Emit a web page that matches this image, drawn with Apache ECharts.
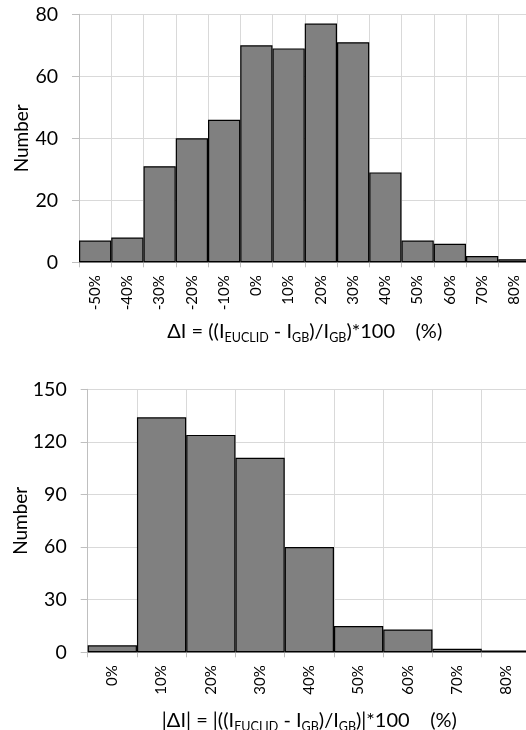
<!DOCTYPE html>
<html>
<head>
<meta charset="utf-8">
<script src="https://cdn.jsdelivr.net/npm/echarts@6/dist/echarts.min.js"></script>
<style>
html,body{margin:0;padding:0;background:#fff;}
#chart{width:526px;height:730px;}
</style>
</head>
<body>
<div id="chart"></div>
<script>
// Top histogram: signed difference
const topCategories = ['-50%','-40%','-30%','-20%','-10%','0%','10%','20%','30%','40%','50%','60%','70%','80%'];
const topValues = [7, 8, 31, 40, 46, 70, 69, 77, 71, 29, 7, 6, 2, 1];
const topYTicks = {min: 0, max: 80, interval: 20};

// Bottom histogram: absolute difference
const bottomCategories = ['0%','10%','20%','30%','40%','50%','60%','70%','80%'];
const bottomValues = [4, 134, 124, 111, 60, 15, 13, 2, 1];
const bottomYTicks = {min: 0, max: 150, interval: 30};

const FONT = 'Lato';
const gridColor = '#d9d9d9';
const axisColor = '#bfbfbf';

const rich = {
  m: {fontFamily: FONT, fontSize: 20, color: '#000', lineHeight: 24},
  s: {fontFamily: FONT, fontSize: 12.5, color: '#000', padding: [12, 0, 0, 0]}
};

function xAxis(gridIndex, cats, name, gap) {
  return {
    type: 'category', gridIndex, data: cats,
    boundaryGap: true,
    axisLine: {show: true, lineStyle: {color: '#a6a6a6', width: 1}},
    axisTick: {show: true, length: 5, lineStyle: {color: axisColor}},
    splitLine: {show: true, interval: 0, lineStyle: {color: gridColor, width: 1}},
    axisLabel: {rotate: 90, interval: 0, margin: 13, fontFamily: FONT, fontSize: 15, color: '#000'},
    name, nameLocation: 'middle', nameGap: gap,
    nameTextStyle: {rich}
  };
}
function yAxis(gridIndex, t, gap) {
  return {
    type: 'value', gridIndex, min: t.min, max: t.max, interval: t.interval,
    axisLine: {show: true, lineStyle: {color: axisColor, width: 1}},
    axisTick: {show: true, length: 7, lineStyle: {color: axisColor}},
    splitLine: {show: true, lineStyle: {color: gridColor, width: 1}},
    axisLabel: {margin: 21, fontFamily: FONT, fontSize: 19.5, color: '#000'},
    name: 'Number', nameLocation: 'middle', nameRotate: 90, nameGap: gap,
    nameMoveOverlap: false,
    nameTextStyle: {fontFamily: FONT, fontSize: 19, color: '#000'}
  };
}
const barStyle = {color: '#808080', borderColor: '#000', borderWidth: 1.2};

const chart = echarts.init(document.getElementById('chart'), null, {renderer: 'canvas'});
chart.setOption({
  animation: false,
  backgroundColor: '#fff',
  grid: [
    {left: 79, top: 14.3, right: -4.5, height: 248, containLabel: false, outerBoundsMode: 'none'},
    {left: 87.7, top: 389.3, right: -5, height: 263, containLabel: false, outerBoundsMode: 'none'}
  ],
  xAxis: [
    xAxis(0, topCategories, '{m|ΔI = ((I}{s|EUCLID}{m| - I}{s|GB}{m|)/I}{s|GB}{m|)*100    (%)}', 57),
    xAxis(1, bottomCategories, '{m||ΔI| = |((I}{s|EUCLID}{m| - I}{s|GB}{m|)/I}{s|GB}{m|)|*100    (%)}', 56)
  ],
  yAxis: [yAxis(0, topYTicks, 48), yAxis(1, bottomYTicks, 57)],
  series: [
    {type: 'bar', xAxisIndex: 0, yAxisIndex: 0, data: topValues, barCategoryGap: '0%', itemStyle: barStyle},
    {type: 'bar', xAxisIndex: 1, yAxisIndex: 1, data: bottomValues, barCategoryGap: '0%', itemStyle: barStyle}
  ]
});
</script>
</body>
</html>
